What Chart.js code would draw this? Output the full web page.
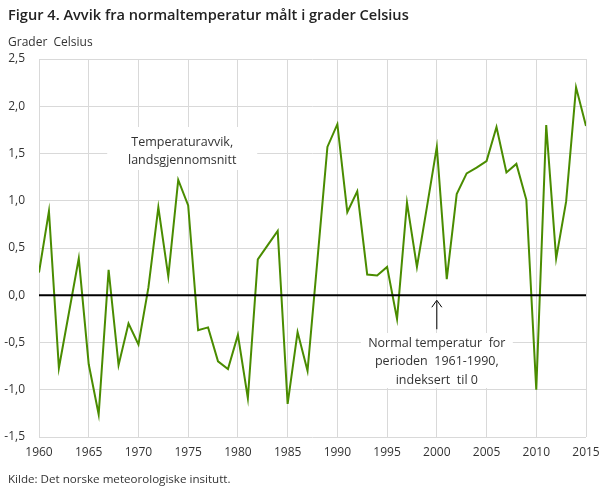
<!DOCTYPE html>
<html>
<head>
  <meta charset="utf-8">
  <script src="https://cdn.jsdelivr.net/npm/chart.js"></script>
  <style>
    body {
      margin: 0;
      background-color: #fff;
      font-family: 'Open Sans', sans-serif;
    }
  </style>
</head>
<body>
  <canvas id="myChart" width="609" height="488"></canvas>

  <script>
  var years = [];
  for (var y = 1960; y <= 2015; y++) years.push(y);

  var avvik = [
    0.24, 0.89, -0.77, -0.19, 0.39, -0.73, -1.26, 0.27, -0.74, -0.30,
    -0.52, 0.08, 0.93, 0.20, 1.22, 0.95, -0.37, -0.34, -0.70, -0.78,
    -0.42, -1.09, 0.38, 0.53, 0.68, -1.15, -0.39, -0.80, 0.38, 1.57,
    1.81, 0.88, 1.10, 0.22, 0.21, 0.30, -0.25, 0.98, 0.30, 0.93,
    1.57, 0.17, 1.07, 1.29, 1.35, 1.42, 1.78, 1.30, 1.39, 1.01,
    -1.00, 1.80, 0.39, 0.99, 2.20, 1.79
  ];

  var yTicks = [-1.5, -1.0, -0.5, 0.0, 0.5, 1.0, 1.5, 2.0, 2.5];
  var xTicks = [1960, 1965, 1970, 1975, 1980, 1985, 1990, 1995, 2000, 2005, 2010, 2015];

  var textColor = '#333';
  var gridColor = '#d9d9d9';

  // tekst, boksar og pil
  var tekstPlugin = {
    id: 'tekst',
    beforeDatasetsDraw: function(chart) {
      var c = chart.ctx;
      var xs = chart.scales.x, ys = chart.scales.y;
      c.save();
      c.fillStyle = '#fff';
      // boks 1
      var bx = xs.getPixelForValue(1974.4);
      c.fillRect(bx - 75, 127, 150, 43);
      // boks 2
      var nx = xs.getPixelForValue(2000);
      c.fillRect(nx - 76, 333, 152, 55);

      c.fillStyle = textColor;
      c.font = '12.5px "Open Sans"';
      c.textAlign = 'center';
      c.textBaseline = 'middle';
      c.fillText('Temperaturavvik,', bx, 142);
      c.fillText('landsgjennomsnitt', bx, 160);
      c.fillText('Normal temperatur  for', nx, 343);
      c.fillText('perioden  1961-1990,', nx, 361);
      c.fillText('indeksert  til 0', nx, 380);

      // pil
      var y0 = ys.getPixelForValue(0);
      c.strokeStyle = '#000';
      c.lineWidth = 1;
      c.beginPath();
      c.moveTo(nx, y0 + 34);
      c.lineTo(nx, y0 + 6);
      c.moveTo(nx - 5, y0 + 12);
      c.lineTo(nx, y0 + 5);
      c.lineTo(nx + 5, y0 + 12);
      c.stroke();
      c.restore();
    },
    afterDraw: function(chart) {
      var c = chart.ctx;
      c.save();
      c.fillStyle = '#222';
      c.textAlign = 'left';
      c.textBaseline = 'alphabetic';
      c.font = '600 14.6px "Open Sans"';
      c.fillText('Figur 4. Avvik fra normaltemperatur målt i grader Celsius', 8, 20);
      c.fillStyle = textColor;
      c.font = '12px "Open Sans"';
      c.fillText('Grader  Celsius', 8, 46);
      c.font = '11.6px "Open Sans"';
      c.fillText('Kilde: Det norske meteorologiske insitutt.', 8, 483);
      c.restore();
    }
  };

  var ctx = document.getElementById('myChart').getContext('2d');
  var myChart = new Chart(ctx, {
    type: 'line',
    data: {
      labels: years,
      datasets: [{
        label: 'Null',
        data: [{x: 1960, y: 0}, {x: 2015, y: 0}],
        borderColor: '#000',
        borderWidth: 2,
        pointRadius: 0,
        order: 0
      }, {
        label: 'Temperaturavvik, landsgjennomsnitt',
        data: years.map(function(yr, i) { return {x: yr, y: avvik[i]}; }),
        borderColor: '#4a8c00',
        borderWidth: 2,
        pointRadius: 0,
        tension: 0,
        order: 1
      }]
    },
    options: {
      responsive: false,
      animation: false,
      layout: {
        padding: { top: 59, left: 0, right: 23, bottom: 0 }
      },
      plugins: {
        legend: { display: false },
        tooltip: { enabled: false }
      },
      scales: {
        x: {
          type: 'linear',
          min: 1960,
          max: 2015,
          afterBuildTicks: function(scale) {
            scale.ticks = xTicks.map(function(v) { return {value: v}; });
          },
          afterFit: function(scale) { scale.height = 51; },
          grid: { color: gridColor, drawTicks: false },
          border: { display: false },
          ticks: {
            color: textColor,
            padding: 8,
            maxRotation: 0,
            autoSkip: false,
            font: { family: 'Open Sans', size: 12 },
            callback: function(v) { return String(v); }
          }
        },
        y: {
          min: -1.5,
          max: 2.5,
          afterBuildTicks: function(scale) {
            scale.ticks = yTicks.map(function(v) { return {value: v}; });
          },
          afterFit: function(scale) { scale.width = 39; },
          grid: { color: gridColor, drawTicks: false },
          border: { display: false },
          ticks: {
            color: textColor,
            padding: 14,
            font: { family: 'Open Sans', size: 12 },
            callback: function(v) { return v.toFixed(1).replace('.', ','); }
          }
        }
      }
    },
    plugins: [tekstPlugin]
  });
  </script>
</body>
</html>
